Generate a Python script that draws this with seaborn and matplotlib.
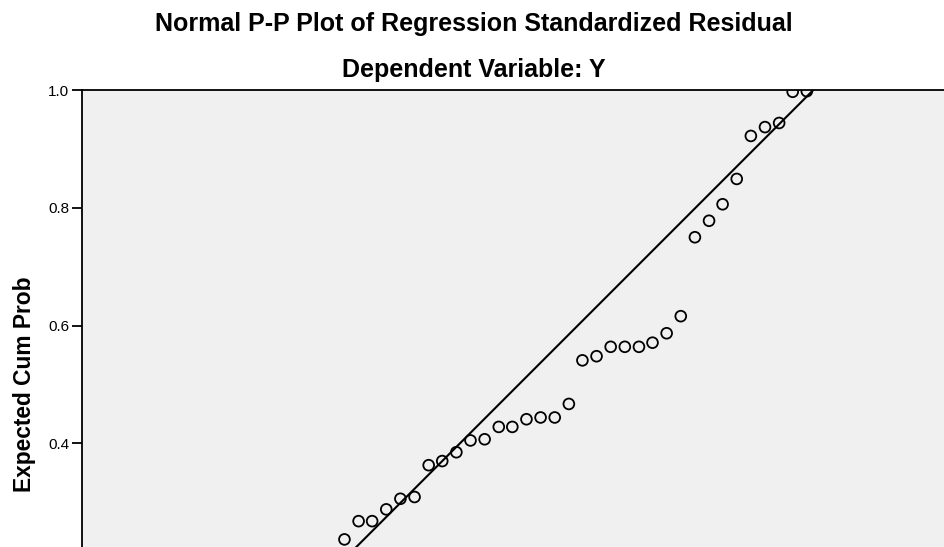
import numpy as np
import pandas as pd
import matplotlib
matplotlib.use("Agg")
import matplotlib.pyplot as plt
import seaborn as sns

# Observed vs expected cumulative probabilities (visible part of the chart)
observed_cum_prob = [0.204, 0.228, 0.251, 0.275, 0.299, 0.323, 0.347, 0.370, 0.394,
                     0.418, 0.442, 0.466, 0.489, 0.513, 0.537, 0.561, 0.585, 0.608,
                     0.632, 0.656, 0.680, 0.704, 0.727, 0.751, 0.775, 0.799, 0.823,
                     0.846, 0.870, 0.894, 0.918, 0.942, 0.965, 0.989]
expected_cum_prob = [0.237, 0.268, 0.268, 0.288, 0.306, 0.309, 0.363, 0.370, 0.385,
                     0.405, 0.407, 0.428, 0.428, 0.441, 0.444, 0.444, 0.467, 0.541,
                     0.548, 0.564, 0.564, 0.564, 0.571, 0.587, 0.616, 0.750, 0.778,
                     0.806, 0.849, 0.922, 0.937, 0.944, 0.997, 0.998]
ref_line = [0.0, 1.0]
y_ticks = [0.4, 0.6, 0.8, 1.0]
y_tick_labels = ["0.4", "0.6", "0.8", "1.0"]

df = pd.DataFrame({"Observed Cum Prob": observed_cum_prob,
                   "Expected Cum Prob": expected_cum_prob})

sns.set_style("white")
plt.rcParams["font.family"] = ["Liberation Sans", "DejaVu Sans"]
plt.rcParams["text.color"] = "black"
plt.rcParams["axes.labelcolor"] = "black"

fig = plt.figure(figsize=(9.44, 5.47), dpi=100)
# axes run past the bottom/right edge, like the cropped original
ax = fig.add_axes([82 / 944, 1 - 679 / 547, 1.0, 589 / 547])
ax.set_facecolor("#f0f0f0")

ax.plot(ref_line, ref_line, color="black", linewidth=1.5, zorder=2)
sns.scatterplot(data=df, x="Observed Cum Prob", y="Expected Cum Prob", ax=ax,
                marker="o", s=60, facecolor="none", edgecolor="black",
                linewidth=1.3, zorder=3)

ax.set_xlim((82 - 224.3) / 589, (82 + 944 - 224.3) / 589)
ax.set_ylim(0.0, 1.0)
ax.set_yticks(y_ticks)
ax.set_yticklabels(y_tick_labels, fontsize=11, color="black")
ax.set_xticks([])
ax.tick_params(axis="y", direction="out", length=7.2, width=1.3, color="black",
               left=True, pad=2)
for side in ["left", "top"]:
    ax.spines[side].set_linewidth(1.3)
    ax.spines[side].set_color("black")
ax.spines["right"].set_visible(False)
ax.spines["bottom"].set_visible(False)
ax.set_xlabel("")
ax.set_ylabel("Expected Cum Prob", fontsize=16.4, fontweight="bold", labelpad=9)

fig.text(474 / 944, 1 - 31 / 547, "Normal P-P Plot of Regression Standardized Residual",
         ha="center", va="baseline", fontsize=18, fontweight="bold")
fig.text(474 / 944, 1 - 77 / 547, "Dependent Variable: Y",
         ha="center", va="baseline", fontsize=18, fontweight="bold")

fig.savefig("out.png", dpi=100)
